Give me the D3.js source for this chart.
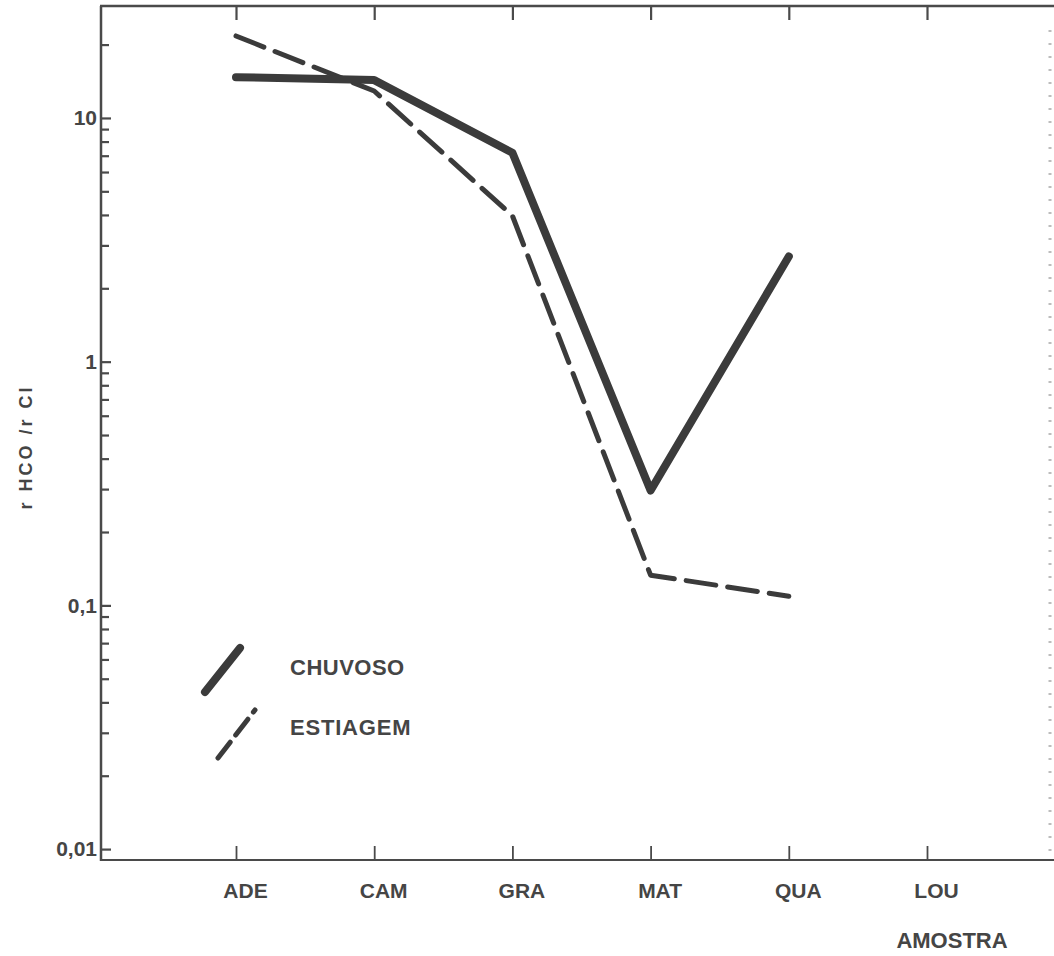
<!DOCTYPE html>
<html>
<head>
<meta charset="utf-8">
<script src="https://cdn.jsdelivr.net/npm/d3@7"></script>
<style>
  html, body { margin: 0; padding: 0; background: #ffffff; }
  svg { display: block; }
  text { font-family: "Liberation Sans", "DejaVu Sans", sans-serif; font-weight: bold; fill: #454545; }
</style>
</head>
<body>
<script>
// ---- data ----
const categories = ["ADE", "CAM", "GRA", "MAT", "QUA", "LOU"];
const chuvoso   = [14.7, 14.3, 7.2, 0.296, 2.7];      // rainy season
const estiagem  = [21.7, 12.9, 3.97, 0.133, 0.109];   // dry season
const seriesNames = ["CHUVOSO", "ESTIAGEM"];
const majorTicks = [0.01, 0.1, 1, 10];
const majorLabels = ["0,01", "0,1", "1", "10"];
const yLabel = "r HCO /r Cl";
const xLabel = "AMOSTRA";

// ---- layout ----
const W = 1054, H = 956;
const mLeft = 101, mRight = 1053, mTop = 6, mBottom = 860;
const ink = "#3b3b3b", axisInk = "#4a4a4a", textInk = "#454545";
const FONT = "'Liberation Sans', 'DejaVu Sans', sans-serif";

const svg = d3.select("body").append("svg").attr("width", W).attr("height", H);

const x = d3.scalePoint().domain(categories).range([236, 927]);
const y = d3.scaleLog().domain([0.00902, 28.8]).range([mBottom, mTop]);

// minor ticks 2..9 per decade plus 20
const minorTicks = [];
[0.01, 0.1, 1, 10].forEach(d => {
  for (let k = 2; k <= 9; k++) {
    const v = +(d * k).toPrecision(3);
    if (v <= y.domain()[1]) minorTicks.push(v);
  }
});

// left axis - minor
svg.append("g").attr("transform", `translate(${mLeft},0)`)
  .call(d3.axisLeft(y).tickValues(minorTicks).tickSize(-8).tickFormat(""))
  .call(g => g.select(".domain").remove())
  .call(g => g.selectAll("line").attr("stroke", axisInk).attr("stroke-width", 2.2));

// left axis - major
svg.append("g").attr("transform", `translate(${mLeft},0)`)
  .call(d3.axisLeft(y).tickValues(majorTicks).tickSize(-10).tickPadding(4)
    .tickFormat((d, i) => majorLabels[i]))
  .call(g => g.select(".domain").remove())
  .call(g => g.selectAll("line").attr("stroke", axisInk).attr("stroke-width", 2.2))
  .call(g => g.selectAll("text").attr("font-size", 21).attr("fill", textInk)
    .style("font-family", FONT).style("font-weight", "bold"));

// axis lines
svg.append("line").attr("x1", mLeft).attr("x2", mLeft).attr("y1", mTop).attr("y2", mBottom + 1)
  .attr("stroke", axisInk).attr("stroke-width", 2.5);
svg.append("line").attr("x1", mLeft - 1).attr("x2", mRight + 1).attr("y1", mBottom).attr("y2", mBottom)
  .attr("stroke", axisInk).attr("stroke-width", 2.2);
svg.append("line").attr("x1", mLeft - 1).attr("x2", mRight + 1).attr("y1", mTop).attr("y2", mTop)
  .attr("stroke", axisInk).attr("stroke-width", 2.5);
// faint scan remnant at right edge
svg.append("line").attr("x1", 1050).attr("x2", 1050).attr("y1", 30).attr("y2", mBottom)
  .attr("stroke", "#bdbdbd").attr("stroke-width", 3).attr("stroke-dasharray", "2,11");

// bottom axis
svg.append("g").attr("transform", `translate(0,${mBottom})`)
  .call(d3.axisBottom(x).tickSize(-14).tickPadding(23))
  .call(g => g.select(".domain").remove())
  .call(g => g.selectAll("line").attr("stroke", axisInk).attr("stroke-width", 1.8))
  .call(g => g.selectAll("text").attr("font-size", 21).attr("dx", 9).attr("fill", textInk)
    .style("font-family", FONT).style("font-weight", "bold"));

// top axis ticks
svg.append("g").attr("transform", `translate(0,${mTop})`)
  .call(d3.axisTop(x).tickSize(-14).tickFormat(""))
  .call(g => g.select(".domain").remove())
  .call(g => g.selectAll("line").attr("stroke", axisInk).attr("stroke-width", 2.2));

// series lines
const line = d3.line().x((d, i) => x(categories[i])).y(d => y(d));

svg.append("path").datum(estiagem).attr("d", line)
  .attr("fill", "none").attr("stroke", ink).attr("stroke-width", 5)
  .attr("stroke-linecap", "round").attr("stroke-linejoin", "round")
  .attr("stroke-dasharray", "30,12");

svg.append("path").datum(chuvoso).attr("d", line)
  .attr("fill", "none").attr("stroke", ink).attr("stroke-width", 8)
  .attr("stroke-linecap", "round").attr("stroke-linejoin", "round");

// legend
const legend = svg.append("g");
legend.append("line").attr("x1", 205).attr("y1", 692).attr("x2", 240).attr("y2", 648)
  .attr("stroke", ink).attr("stroke-width", 8).attr("stroke-linecap", "round");
legend.append("line").attr("x1", 218).attr("y1", 758).attr("x2", 255).attr("y2", 710)
  .attr("stroke", ink).attr("stroke-width", 5).attr("stroke-linecap", "round")
  .attr("stroke-dasharray", "20,9");
legend.append("text").attr("x", 290).attr("y", 675).attr("font-size", 22)
  .attr("letter-spacing", 0.5).text(seriesNames[0]);
legend.append("text").attr("x", 290).attr("y", 735).attr("font-size", 22)
  .attr("letter-spacing", 0.8).text(seriesNames[1]);

// axis titles
svg.append("text").attr("transform", "translate(32,447) rotate(-90)")
  .attr("text-anchor", "middle").attr("font-size", 18).attr("letter-spacing", 3)
  .text(yLabel);
svg.append("text").attr("x", 952).attr("y", 948).attr("text-anchor", "middle")
  .attr("font-size", 22).text(xLabel);
</script>
</body>
</html>
